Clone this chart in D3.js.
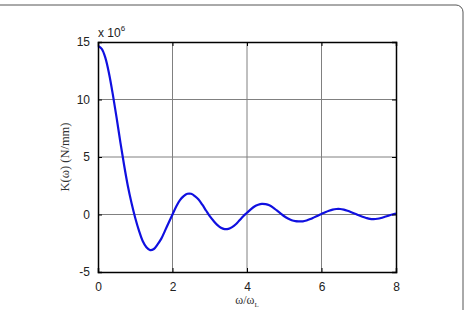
<!DOCTYPE html>
<html>
<head>
<meta charset="utf-8">
<script src="https://cdn.jsdelivr.net/npm/d3@7"></script>
<style>
body { margin: 0; background: #fff; }
svg text { font-family: "Liberation Sans", Arial, sans-serif; }
</style>
</head>
<body>
<svg id="chart" width="465" height="310"></svg>
<script>
// frequency ratio w/wL
const ratio = [0,0.1,0.2,0.3,0.4,0.5,0.6,0.7,0.8,0.9,1.0,1.1,1.2,1.3,1.4,1.5,1.6,1.7,1.8,1.9,
  2.0,2.1,2.2,2.3,2.4,2.5,2.6,2.7,2.8,2.9,3.0,3.1,3.2,3.3,3.4,3.5,3.6,3.7,3.8,3.9,
  4.0,4.1,4.2,4.3,4.4,4.5,4.6,4.7,4.8,4.9,5.0,5.1,5.2,5.3,5.4,5.5,5.6,5.7,5.8,5.9,
  6.0,6.1,6.2,6.3,6.4,6.5,6.6,6.7,6.8,6.9,7.0,7.1,7.2,7.3,7.4,7.5,7.6,7.7,7.8,7.9,8.0];
// K(w) in units of 1e6 N/mm
const stiffness = [14.65,14.4,13.6,12.2,10.4,8.4,6.3,4.3,2.5,1.0,-0.3,-1.4,-2.3,-2.85,-3.1,-3.0,-2.6,-2.1,-1.4,-0.7,
  0.0,0.7,1.25,1.6,1.8,1.8,1.6,1.3,0.85,0.35,-0.15,-0.55,-0.9,-1.15,-1.27,-1.25,-1.1,-0.85,-0.5,-0.15,
  0.15,0.45,0.7,0.85,0.93,0.9,0.8,0.6,0.35,0.1,-0.15,-0.35,-0.5,-0.58,-0.6,-0.6,-0.52,-0.4,-0.25,-0.1,
  0.05,0.2,0.33,0.43,0.48,0.48,0.42,0.32,0.2,0.07,-0.07,-0.2,-0.3,-0.38,-0.4,-0.37,-0.3,-0.2,-0.1,0.0,0.08];
const xTicks = [0, 2, 4, 6, 8];
const yTicks = [-5, 0, 5, 10, 15];

let svg = d3.select("#chart");
let margin = {left: 98, top: 42, right: 69, bottom: 38};
let width = +svg.attr("width") - margin.left - margin.right;
let height = +svg.attr("height") - margin.top - margin.bottom;

// figure frame (rounded, partly cropped)
svg.append("rect")
    .attr("x", -10).attr("y", 5)
    .attr("width", 473).attr("height", 330)
    .attr("rx", 7)
    .attr("fill", "none")
    .attr("stroke", "#555")
    .attr("stroke-width", 1);

let x = d3.scaleLinear().domain([0, 8]).range([0, width]);
let y = d3.scaleLinear().domain([-5, 15]).range([height, 0]);
let g = svg.append("g").attr("transform", `translate(${margin.left}, ${margin.top})`);

// grid
g.selectAll(".gx").data(xTicks.slice(1, -1)).enter().append("line")
    .attr("x1", d => x(d)).attr("x2", d => x(d))
    .attr("y1", 0).attr("y2", height)
    .attr("stroke", "#808080").attr("stroke-width", 1);
g.selectAll(".gy").data(yTicks.slice(1, -1)).enter().append("line")
    .attr("x1", 0).attr("x2", width)
    .attr("y1", d => y(d)).attr("y2", d => y(d))
    .attr("stroke", "#808080").attr("stroke-width", 1);

// curve
let line = d3.line()
    .x((d, i) => x(ratio[i]))
    .y(d => y(d))
    .curve(d3.curveCatmullRom);
g.append("path")
    .datum(stiffness)
    .attr("d", line)
    .attr("fill", "none")
    .attr("stroke", "#1010e0")
    .attr("stroke-width", 2.2);

// axes (ticks inward, matlab style)
let fmt = d => String(d);
let xAxis = g.append("g").attr("transform", `translate(0, ${height})`)
    .call(d3.axisBottom(x).tickValues(xTicks).tickSize(-4).tickPadding(10).tickFormat(fmt));
let xTop = g.append("g")
    .call(d3.axisTop(x).tickValues(xTicks).tickSize(-4).tickFormat(""));
let yAxis = g.append("g")
    .call(d3.axisLeft(y).tickValues(yTicks).tickSize(-4).tickPadding(8).tickFormat(fmt));
let yRight = g.append("g").attr("transform", `translate(${width}, 0)`)
    .call(d3.axisRight(y).tickValues(yTicks).tickSize(-4).tickFormat(""));
[xAxis, xTop, yAxis, yRight].forEach(a => {
    a.select(".domain").attr("stroke", "#000").attr("stroke-width", 1.5);
    a.selectAll(".tick line").attr("stroke", "#000");
    a.selectAll("text").attr("font-size", 12).attr("fill", "#222")
        .attr("font-family", "Liberation Sans, Arial, sans-serif");
});

// exponent label
let ex = g.append("text")
    .attr("x", 0).attr("y", -5)
    .attr("font-size", 12).attr("fill", "#222")
    .text("x 10");
ex.append("tspan").attr("font-size", 8).attr("dy", -6).text("6");

// axis titles
svg.append("text")
    .attr("transform", `translate(${margin.left + width / 2}, 304)`)
    .attr("text-anchor", "middle")
    .style("font-family", "'Liberation Serif', serif")
    .attr("font-size", 12).attr("fill", "#333")
    .text("ω/ω")
    .append("tspan").attr("font-size", 7).attr("dy", 3).text("L");
svg.append("text")
    .attr("transform", `translate(69, ${margin.top + height / 2}) rotate(-90)`)
    .attr("text-anchor", "middle")
    .style("font-family", "'Liberation Serif', serif")
    .attr("font-size", 12.5).attr("fill", "#333")
    .text("K(ω) (N/mm)");
</script>
</body>
</html>
